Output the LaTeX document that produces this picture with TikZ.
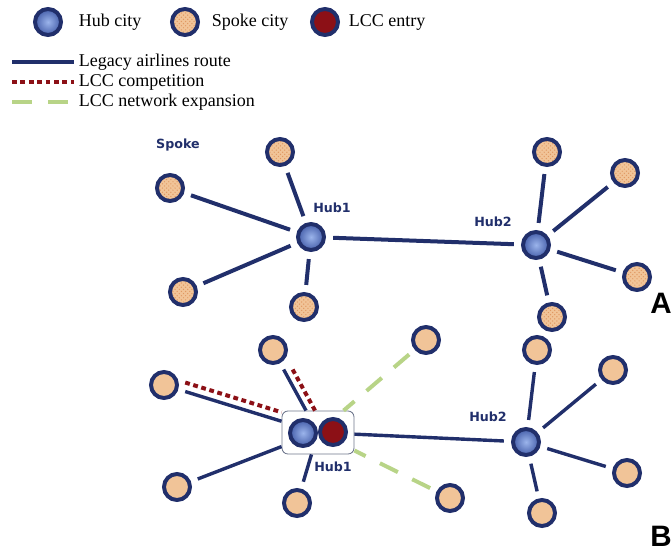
\documentclass[tikz,border=0pt]{standalone}
\usepackage{fontspec}
\setmainfont{Liberation Serif}
\newfontfamily\labelfont{DejaVu Sans}
\newfontfamily\panelfont{Liberation Sans}
\usepackage{xcolor}
\usetikzlibrary{fit,patterns}
\definecolor{navy}{RGB}{33,47,107}
\definecolor{hubin}{RGB}{155,180,235}
\definecolor{hubout}{RGB}{70,95,170}
\definecolor{lccred}{RGB}{140,16,22}
\definecolor{spokefill}{RGB}{241,196,152}
\definecolor{spokedot}{RGB}{224,152,98}
\definecolor{expgreen}{RGB}{184,212,135}
\definecolor{boxgray}{RGB}{110,118,140}

\begin{document}
\begin{tikzpicture}[x=0.025cm, y=-0.025cm,
    city/.style={circle, draw=navy, line width=0.1cm, minimum size=0.65cm, inner sep=0pt},
    hub/.style={city, inner color=hubin, outer color=hubout},
    spoke/.style={city, fill=spokefill},
    spokeA/.style={city, preaction={fill=spokefill}, pattern=crosshatch dots, pattern color=spokedot},
    lcc/.style={city, fill=lccred},
    route/.style={draw=navy, line width=0.1cm, shorten <=0.18cm, shorten >=0.18cm},
    routeB/.style={draw=navy, line width=0.085cm, shorten <=0.18cm},
    compete/.style={draw=lccred, line width=0.1cm, dash pattern=on 0.12cm off 0.09cm},
    expand/.style={draw=expgreen, line width=0.1cm, dash pattern=on 0.5cm off 0.4cm},
    key/.style={anchor=west, font=\fontsize{12.8}{14}\selectfont},
    lbl/.style={text=navy, font=\labelfont\bfseries\fontsize{9}{10}\selectfont},
    panel/.style={font=\panelfont\bfseries\fontsize{21}{24}\selectfont}]
    \useasboundingbox (0,0) rectangle (672,553);

    \node [hub] (keyhub) at (48,22) {};
    \node [key] (keyhubtxt) at (74,22) {Hub city};
    \node [spokeA] (keyspoke) at (185,22) {};
    \node [key] (keyspoketxt) at (207,22) {Spoke city};
    \node [lcc] (keylcc) at (325,22) {};
    \node [key] (keylcctxt) at (344,22) {LCC entry};
    \coordinate (keyroute) at (12,62);
    \node [key] (keyroutetxt) at (74,62) {Legacy airlines route};
    \coordinate (keycompete) at (12,82);
    \node [key] (keycompetetxt) at (74,82) {LCC competition};
    \coordinate (keyexpand) at (12,102);
    \node [key] (keyexpandtxt) at (74,102) {LCC network expansion};
    \draw [draw=navy, line width=0.1cm] (keyroute) -- (keyroutetxt.west);
    \draw [compete] (keycompete) -- (keycompetetxt.west);
    \draw [expand] (keyexpand) -- (keyexpandtxt.west);

    \node [hub] (hubA1) at (311,237) {};
    \node [hub] (hubA2) at (536,245) {};
    \node [spokeA] (sA1) at (280,152) {};
    \node [spokeA] (sA2) at (170,188) {};
    \node [spokeA] (sA3) at (183,292) {};
    \node [spokeA] (sA4) at (304,307) {};
    \node [spokeA] (sA5) at (547,152) {};
    \node [spokeA] (sA6) at (625,173) {};
    \node [spokeA] (sA7) at (637,277) {};
    \node [spokeA] (sA8) at (552,317) {};
    \node [lbl] (spokelbl) at (178,145) {Spoke};
    \node [lbl] (hubA1lbl) at (332,208) {Hub1};
    \node [lbl] (hubA2lbl) at (493,222) {Hub2};
    \node [panel] (panelA) at (661,303) {A};
    \path [route] (hubA1) -- (sA1);
    \path [route] (hubA1) -- (sA2);
    \path [route] (hubA1) -- (sA3);
    \path [route] (hubA1) -- (sA4);
    \path [route] (hubA1) -- (hubA2);
    \path [route] (hubA2) -- (sA5);
    \path [route] (hubA2) -- (sA6);
    \path [route] (hubA2) -- (sA7);
    \path [route] (hubA2) -- (sA8);

    \node [hub] (hubB1) at (303,433) {};
    \node [lcc] (lccB) at (333,432) {};
    \node [draw=boxgray, line width=0.6pt, rounded corners=0.15cm, inner sep=0.15cm, fit=(hubB1)(lccB)] (entry) {};
    \node [hub] (hubB2) at (526,442) {};
    \node [spoke] (sB1) at (273,350) {};
    \node [spoke] (sB2) at (164,385) {};
    \node [spoke] (sB3) at (177,487) {};
    \node [spoke] (sB4) at (297,503) {};
    \node [spoke] (sB5) at (426,340) {};
    \node [spoke] (sB6) at (450,498) {};
    \node [spoke] (sB7) at (537,350) {};
    \node [spoke] (sB8) at (613,370) {};
    \node [spoke] (sB9) at (627,473) {};
    \node [spoke] (sB10) at (542,513) {};
    \node [lbl] (hubB1lbl) at (333,467) {Hub1};
    \node [lbl] (hubB2lbl) at (488,417) {Hub2};
    \node [panel] (panelB) at (661,536) {B};
    \path [routeB] (sB1) -- (entry);
    \path [routeB] (sB2) -- (entry);
    \path [routeB] (sB3) -- (entry);
    \path [routeB] (sB4) -- (entry);
    \path [routeB] (hubB2) -- (entry);
    \path [routeB, shorten >=0.18cm] (hubB2) -- (sB7);
    \path [routeB, shorten >=0.18cm] (hubB2) -- (sB8);
    \path [routeB, shorten >=0.18cm] (hubB2) -- (sB9);
    \path [routeB, shorten >=0.18cm] (hubB2) -- (sB10);
    \path [compete, shorten <=0.18cm, transform canvas={yshift=0.225cm}] (sB2) -- (entry);
    \path [compete, shorten <=0.18cm, transform canvas={xshift=0.225cm}] (sB1) -- (entry);
    \path [expand, shorten <=0.18cm] (sB5) -- (entry);
    \path [expand, shorten <=0.18cm] (sB6) -- (entry);
\end{tikzpicture}
\end{document}
